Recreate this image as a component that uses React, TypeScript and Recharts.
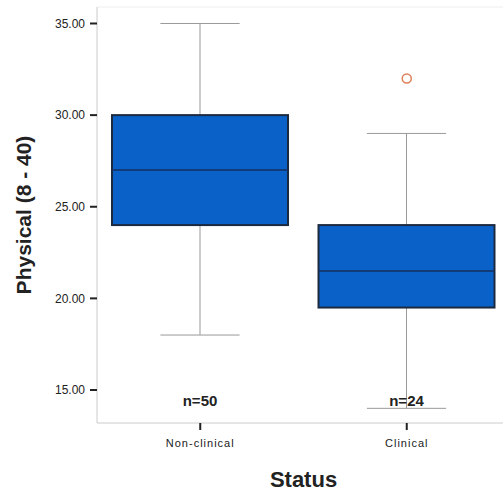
import React from "react";
import { Bar, ComposedChart, Label, ReferenceLine, Scatter, XAxis, YAxis } from "recharts";

const categories = ["Non-clinical", "Clinical"];
const minVals = [18, 14];
const q1Vals = [24, 19.5];
const medianVals = [27, 21.5];
const q3Vals = [30, 24];
const maxVals = [35, 29];
const outliers: Array<number | null> = [null, 32];
const counts = [50, 24];
const yTicks = [15, 20, 25, 30, 35];
const yDomain: [number, number] = [13.2, 35.9];

const data = categories.map((status, i) => ({
  status,
  range: [minVals[i], maxVals[i]],
  min: minVals[i],
  q1: q1Vals[i],
  median: medianVals[i],
  q3: q3Vals[i],
  max: maxVals[i],
  outlier: outliers[i],
  n: counts[i],
}));

const font = "Arial, 'Liberation Sans', sans-serif";

function BoxShape(props: any) {
  const { x, y, width, height, payload } = props;
  const { min, q1, median, q3, max, n } = payload;
  // map values to pixels from the bar's own range (min..max)
  const toPx = (v: number) => y + ((max - v) / (max - min)) * height;
  const cx = x + width / 2;
  const cap = width * 0.45;
  const bottom = toPx(yDomain[0]);
  return (
    <g>
      <line x1={cx} x2={cx} y1={toPx(max)} y2={toPx(q3)} stroke="#999" strokeWidth={1} />
      <line x1={cx} x2={cx} y1={toPx(q1)} y2={toPx(min)} stroke="#999" strokeWidth={1} />
      <line x1={cx - cap / 2} x2={cx + cap / 2} y1={toPx(max)} y2={toPx(max)} stroke="#999" strokeWidth={1} />
      <line x1={cx - cap / 2} x2={cx + cap / 2} y1={toPx(min)} y2={toPx(min)} stroke="#999" strokeWidth={1} />
      <rect x={x} y={toPx(q3)} width={width} height={toPx(q1) - toPx(q3)} fill="#0a61c8" stroke="#1c2a40" strokeWidth={2} />
      <line x1={x} x2={x + width} y1={toPx(median)} y2={toPx(median)} stroke="#16315e" strokeWidth={1.5} />
      <text x={cx} y={bottom - 17} textAnchor="middle" fontFamily={font} fontWeight="bold" fontSize={15} fill="#222">
        n={n}
      </text>
    </g>
  );
}

function OutlierShape(props: any) {
  const { cx, cy } = props;
  if (cx == null || cy == null) return <g />;
  return <circle cx={cx} cy={cy} r={4.5} fill="none" stroke="#e07f58" strokeWidth={1.5} />;
}

export default function App() {
  return (
    <div style={{ position: "absolute", left: 0, top: 0, background: "#fff" }}>
      <ComposedChart width={503} height={494} data={data} margin={{ top: 7, right: -7, bottom: 0, left: 0 }}>
        <XAxis
          dataKey="status"
          height={71}
          axisLine={{ stroke: "#ccc" }}
          tickLine={{ stroke: "#222", strokeWidth: 2 }}
          tickSize={7}
          tickMargin={9}
          tick={{ fontSize: 11, fill: "#222", fontFamily: font, letterSpacing: 1 }}
        >
          <Label value="Status" position="insideBottom" offset={7} style={{ fontSize: 22, fontWeight: "bold", fill: "#222", fontFamily: font }} />
        </XAxis>
        <YAxis
          type="number"
          domain={yDomain}
          ticks={yTicks}
          width={97}
          axisLine={{ stroke: "#ccc" }}
          tickLine={{ stroke: "#222", strokeWidth: 2 }}
          tickSize={7}
          tickMargin={5}
          tickFormatter={(v: number) => v.toFixed(2)}
          tick={{ fontSize: 12, fill: "#222", fontFamily: font }}
        >
          <Label value="Physical (8 - 40)" angle={-90} position="insideLeft" offset={24} style={{ textAnchor: "middle", fontSize: 21, fontWeight: "bold", fill: "#222", fontFamily: font }} />
        </YAxis>
        <ReferenceLine y={yDomain[1]} stroke="#eee" />
        <Bar dataKey="range" barSize={176} shape={<BoxShape />} isAnimationActive={false} />
        <Scatter dataKey="outlier" shape={<OutlierShape />} isAnimationActive={false} />
      </ComposedChart>
    </div>
  );
}
